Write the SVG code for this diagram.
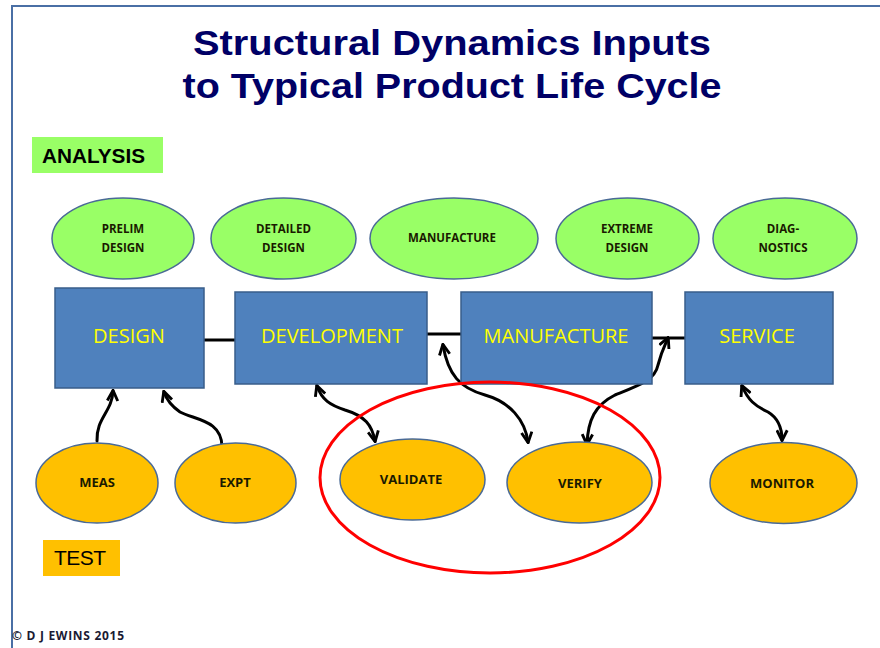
<svg xmlns="http://www.w3.org/2000/svg" width="880" height="648" viewBox="0 0 880 648">
<defs>
<style>
.title{font-family:"Liberation Sans",Arial,sans-serif;font-weight:bold;font-size:35px;fill:#000066;text-anchor:middle}
.box{fill:#4f81bd;stroke:#385d8a;stroke-width:1.5}
.boxt{font-family:"Open Sans","Liberation Sans",sans-serif;font-size:20px;fill:#ffff00;text-anchor:middle}
.gell{fill:#99ff66;stroke:#4a6a96;stroke-width:1.5}
.oell{fill:#ffc000;stroke:#4a6a96;stroke-width:1.5}
.et{font-family:"Open Sans","Liberation Sans",sans-serif;font-weight:bold;font-size:11.5px;fill:#1a1a00;text-anchor:middle}
.ot{font-family:"Open Sans","Liberation Sans",sans-serif;font-weight:bold;font-size:13px;fill:#1a1a00;text-anchor:middle}
.lbl{font-family:"Liberation Sans",Arial,sans-serif;font-size:21px;fill:#000}
.conn{fill:none;stroke:#000;stroke-width:3}
.curve{fill:none;stroke:#000;stroke-width:3;stroke-linecap:round}
</style>
<marker id="ah" viewBox="0 0 10 10" refX="8.5" refY="5" markerWidth="13" markerHeight="13" markerUnits="userSpaceOnUse" orient="auto-start-reverse">
<path d="M1,1 L9,5 L1,9" fill="none" stroke="#000" stroke-width="2.2"/>
</marker>
</defs>
<rect width="880" height="648" fill="#fff"/>
<path d="M12,648 V6 H880" fill="none" stroke="#4a6fa5" stroke-width="2"/>

<g id="title">
<text class="title" x="452" y="55" textLength="518" lengthAdjust="spacingAndGlyphs">Structural Dynamics Inputs</text>
<text class="title" x="452" y="98" textLength="539" lengthAdjust="spacingAndGlyphs">to Typical Product Life Cycle</text>
</g>

<g id="analysis-label">
<rect x="32" y="137" width="131" height="36" fill="#99ff66"/>
<text class="lbl" x="42" y="163" font-weight="bold" textLength="103" lengthAdjust="spacingAndGlyphs">ANALYSIS</text>
</g>
<g id="test-label">
<rect x="43" y="540" width="77" height="36" fill="#ffc000"/>
<text class="lbl" x="54" y="565" textLength="52" lengthAdjust="spacing">TEST</text>
</g>

<g id="connectors">
<line class="conn" x1="204" y1="340" x2="235" y2="340" stroke-width="4"/>
<line class="conn" x1="426" y1="334" x2="461" y2="334"/>
<line class="conn" x1="652" y1="338" x2="685" y2="338" stroke-width="5"/>
<path class="curve" d="M97,441 C96,418 112,412 113,391" marker-end="url(#ah)"/>
<path class="curve" d="M222,447 C222,420 195,420 180,412 C170,405 166,398 164,392" marker-end="url(#ah)"/>
<path class="curve" d="M317,386 C322,400 330,405 345,410 C365,416 372,425 375,441" marker-start="url(#ah)" marker-end="url(#ah)"/>
<path class="curve" d="M443,345 C448,375 460,388 485,395 C510,402 525,420 528,442" marker-start="url(#ah)" marker-end="url(#ah)"/>
<path class="curve" d="M587,444 C588,420 595,405 615,395 C640,385 655,380 658,365 C662,350 665,345 668,338" marker-start="url(#ah)" marker-end="url(#ah)"/>
<path class="curve" d="M742,386 C748,400 755,406 768,412 C778,418 782,428 782,440" marker-start="url(#ah)" marker-end="url(#ah)"/>
</g>

<g id="prelim-design"><ellipse class="gell" cx="123" cy="238.5" rx="71" ry="40.5"/><text class="et" x="123" y="233">PRELIM</text><text class="et" x="123" y="252">DESIGN</text></g>
<g id="detailed-design"><ellipse class="gell" cx="283.5" cy="238.5" rx="72.5" ry="40.5"/><text class="et" x="283.5" y="233">DETAILED</text><text class="et" x="283.5" y="252">DESIGN</text></g>
<g id="manufacture-analysis"><ellipse class="gell" cx="454" cy="238.5" rx="84" ry="40.5"/><text class="et" x="452" y="242">MANUFACTURE</text></g>
<g id="extreme-design"><ellipse class="gell" cx="627.5" cy="238.5" rx="71.5" ry="40.5"/><text class="et" x="627" y="233">EXTREME</text><text class="et" x="627" y="252">DESIGN</text></g>
<g id="diagnostics"><ellipse class="gell" cx="785" cy="238.5" rx="72" ry="40.5"/><text class="et" x="783" y="233">DIAG-</text><text class="et" x="783" y="252">NOSTICS</text></g>

<g id="design"><rect class="box" x="55" y="288" width="149" height="100"/><text class="boxt" x="129" y="343">DESIGN</text></g>
<g id="development"><rect class="box" x="235" y="292" width="192" height="92"/><text class="boxt" x="332" y="343">DEVELOPMENT</text></g>
<g id="manufacture"><rect class="box" x="461" y="292" width="191" height="92"/><text class="boxt" x="556" y="343">MANUFACTURE</text></g>
<g id="service"><rect class="box" x="685" y="292" width="148" height="92"/><text class="boxt" x="757" y="343">SERVICE</text></g>

<g id="meas"><ellipse class="oell" cx="97" cy="483" rx="61" ry="40"/><text class="ot" x="97" y="487">MEAS</text></g>
<g id="expt"><ellipse class="oell" cx="235.5" cy="483" rx="60.5" ry="40"/><text class="ot" x="235" y="487">EXPT</text></g>
<g id="validate"><ellipse class="oell" cx="412.5" cy="479.5" rx="72.5" ry="40.5"/><text class="ot" x="411" y="484">VALIDATE</text></g>
<g id="verify"><ellipse class="oell" cx="579.5" cy="482.5" rx="72.5" ry="40.5"/><text class="ot" x="580" y="488">VERIFY</text></g>
<g id="monitor"><ellipse class="oell" cx="783.5" cy="483" rx="73.5" ry="40.5"/><text class="ot" x="782" y="488">MONITOR</text></g>

<g id="highlight"><ellipse cx="490" cy="477.5" rx="170" ry="95.5" fill="none" stroke="#ff0000" stroke-width="3"/></g>

<g id="copyright"><text x="12" y="640" font-family="'Open Sans','Liberation Sans',sans-serif" font-weight="bold" font-size="12px" fill="#1a1a33" textLength="112" lengthAdjust="spacing">© D J EWINS 2015</text></g>
</svg>
